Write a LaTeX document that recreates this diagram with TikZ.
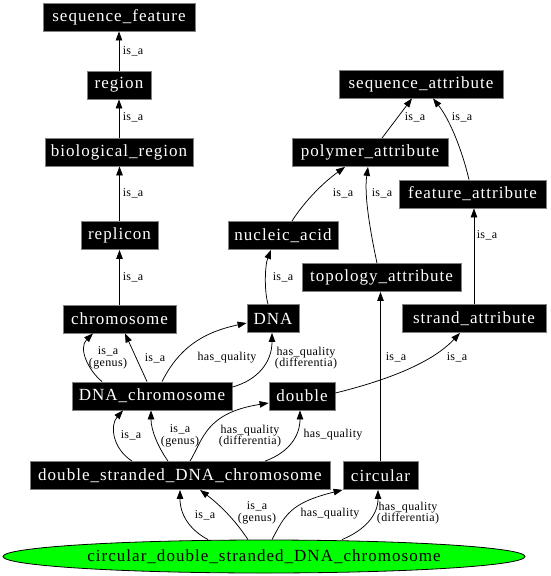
\documentclass[tikz,border=0pt]{standalone}
\usepackage{fontspec}
\usetikzlibrary{arrows.meta,shapes.geometric}
\newfontfamily\nodefam[LetterSpace=6]{Liberation Serif}
\newfontfamily\labfam[LetterSpace=3]{Liberation Serif}
\newcommand\nodefnt{\nodefam\fontsize{17pt}{18pt}\selectfont}
\newcommand\labfnt{\labfam\fontsize{12pt}{11.5pt}\selectfont}
\definecolor{boxborder}{RGB}{128,128,128}
\definecolor{ellgreen}{RGB}{0,255,0}
\begin{document}
\begin{tikzpicture}[x=1pt,y=-1pt,
  box/.style={rectangle, fill=black, draw=boxborder, line width=0.8pt, text=white, font=\nodefnt, minimum height=28pt, inner xsep=4pt, inner ysep=0pt},
  ell/.style={ellipse, fill=ellgreen, draw=black, line width=0.8pt, text=black, font=\nodefnt, minimum width=522pt, minimum height=33pt, inner sep=0pt},
  edge/.style={draw=black, line width=0.75pt, -{Triangle[length=9pt,width=6.5pt]}},
  lab/.style={font=\labfnt, align=center, inner sep=0pt}]
\useasboundingbox (0,0) rectangle (551,576);
% nodes
\node[box, minimum width=152pt] (seqfeat) at (119,17) {sequence\_feature};
\node[box, minimum width=64pt] (region) at (119,85) {region};
\node[box, minimum width=148pt] (bioreg) at (119,152) {biological\_region};
\node[box, minimum width=77pt] (replicon) at (119.5,235.5) {replicon};
\node[box, minimum width=113pt] (chrom) at (119.5,319) {chromosome};
\node[box, minimum width=52pt] (dna) at (273,318.5) {DNA};
\node[box, minimum width=160pt] (dnachr) at (152,396) {DNA\_chromosome};
\node[box, minimum width=66pt] (double) at (302,396) {double};
\node[box, minimum width=300pt] (dsdna) at (180,475.5) {double\_stranded\_DNA\_chromosome};
\node[box, minimum width=75pt] (circular) at (380.5,475.5) {circular};
\node[ell] (cdsdna) at (264,556.5) {circular\_double\_stranded\_DNA\_chromosome};
\node[box, minimum width=164pt] (seqattr) at (421,84) {sequence\_attribute};
\node[box, minimum width=156pt] (polyattr) at (370,152.5) {polymer\_attribute};
\node[box, minimum width=147pt] (featattr) at (472.5,194) {feature\_attribute};
\node[box, minimum width=110pt] (nucacid) at (283,235.5) {nucleic\_acid};
\node[box, minimum width=159pt] (topoattr) at (381.5,277.5) {topology\_attribute};
\node[box, minimum width=144pt] (strandattr) at (474,318.5) {strand\_attribute};
% edges
\draw[edge] (region.north) -- (seqfeat.south);
\draw[edge] (bioreg.north) -- (region.south);
\draw[edge] (replicon.north) -- (replicon.north |- bioreg.south);
\draw[edge] (chrom.north) -- (chrom.north |- replicon.south);
\draw[edge] ([xshift=-50pt]dnachr.north) .. controls (88,370) and (78,348) .. ([xshift=-26.5pt]chrom.south);
\draw[edge] ([xshift=-5pt]dnachr.north) -- ([xshift=5.5pt]chrom.south);
\draw[edge] ([xshift=10pt]dnachr.north) .. controls (178,350) and (200,333) .. ([yshift=-4.5pt]dna.west);
\draw[edge] ([yshift=9pt]dnachr.east) .. controls (258,380) and (272,362) .. ([xshift=-1pt]dna.south);
\draw[edge] ([xshift=-5pt]dna.north) .. controls (264,290) and (265,265) .. ([xshift=-12pt]nucacid.south);
\draw[edge] ([xshift=9pt]nucacid.north) .. controls (302,205) and (320,185) .. ([xshift=-25pt]polyattr.south);
\draw[edge] ([xshift=-4.5pt]topoattr.north) .. controls (370,230) and (364,195) .. ([xshift=-2pt]polyattr.south);
\draw[edge] ([xshift=12pt]polyattr.north) -- ([xshift=-9pt]seqattr.south);
\draw[edge] ([xshift=-3.5pt]featattr.north) .. controls (462,150) and (450,120) .. ([xshift=12pt]seqattr.south);
\draw[edge] (strandattr.north) -- (strandattr.north |- featattr.south);
\draw[edge] ([yshift=3pt]double.east) .. controls (380,382) and (430,365) .. ([xshift=-14pt]strandattr.south);
\draw[edge] (circular.north) -- (circular.north |- topoattr.south);
\draw[edge] ([xshift=-48pt]dsdna.north) .. controls (112,448) and (110,425) .. ([xshift=-29pt]dnachr.south);
\draw[edge] ([xshift=-12pt]dsdna.north) .. controls (158,447) and (151,430) .. ([xshift=-1pt]dnachr.south);
\draw[edge] ([xshift=10pt]dsdna.north) .. controls (203,440) and (205,413) .. ([yshift=-7pt]double.west);
\draw[edge] ([xshift=85pt]dsdna.north) .. controls (290,452) and (300,435) .. ([xshift=-2pt]double.south);
\draw[edge] ([xshift=-56pt]cdsdna.north) .. controls (190,530) and (180,515) .. (dsdna.south);
\draw[edge] ([xshift=-16pt]cdsdna.north) .. controls (235,520) and (220,505) .. ([xshift=20pt]dsdna.south);
\draw[edge] ([xshift=8pt]cdsdna.north) .. controls (285,515) and (290,503) .. (circular.south west);
\draw[edge] ([xshift=78pt]cdsdna.north) .. controls (365,530) and (378,515) .. ([xshift=-2.5pt]circular.south);
% labels
\node[lab] (l1) at (133,51) {is\_a};
\node[lab] (l2) at (133,117) {is\_a};
\node[lab] (l3) at (133,193) {is\_a};
\node[lab] (l4) at (133,277) {is\_a};
\node[lab] (l5) at (108,358) {is\_a\\(genus)};
\node[lab] (l6) at (155,358) {is\_a};
\node[lab] (l7) at (227,358) {has\_quality};
\node[lab] (l8) at (306,358) {has\_quality\\(differentia)};
\node[lab] (l9) at (283,277) {is\_a};
\node[lab] (l10) at (343,193) {is\_a};
\node[lab] (l11) at (382,193) {is\_a};
\node[lab] (l12) at (415,117) {is\_a};
\node[lab] (l13) at (462,117) {is\_a};
\node[lab] (l14) at (487,235) {is\_a};
\node[lab] (l15) at (457,357) {is\_a};
\node[lab] (l16) at (396,357) {is\_a};
\node[lab] (l17) at (131,435) {is\_a};
\node[lab] (l18) at (180,436) {is\_a\\(genus)};
\node[lab] (l19) at (250,436) {has\_quality\\(differentia)};
\node[lab] (l20) at (333,435) {has\_quality};
\node[lab] (l21) at (205,515) {is\_a};
\node[lab] (l22) at (257,513) {is\_a\\(genus)};
\node[lab] (l23) at (330,514) {has\_quality};
\node[lab] (l24) at (408,513) {has\_quality\\(differentia)};
\end{tikzpicture}
\end{document}
